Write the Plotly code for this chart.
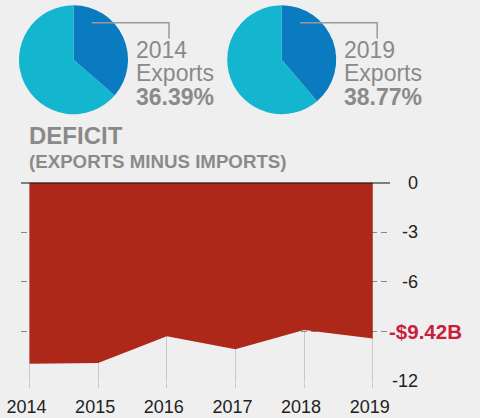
import plotly.graph_objects as go

# ---- data ----
years = [2014, 2015, 2016, 2017, 2018, 2019]
deficit = [-10.95, -10.90, -9.29, -10.07, -8.91, -9.42]
pie_years = ["2014", "2019"]
export_share = [36.39, 38.77]
y_tick_vals = [0, -3, -6, -12]
y_tick_text = ["0", "-3", "-6", "-12"]
last_label = "-$9.42B"
last_label_y = -9
title = "DEFICIT"
subtitle = "(EXPORTS MINUS IMPORTS)"

W, H = 480, 418
BG = "#EFEFEF"
GRAY = "#8A8A8A"
FONT = "Liberation Sans, Arial, sans-serif"
RED_FILL = "#AE2819"
RED_TEXT = "#C8203C"
BLUE = "#0A7BC1"
CYAN = "#14B5CE"


def px(x):
    return x / W


def py(y):
    return 1 - y / H


fig = go.Figure()

# pies
pie_centers = [73.5, 281.7]
pie_cy, pie_r = 59.7, 54.5
for cx, yr, share in zip(pie_centers, pie_years, export_share):
    fig.add_trace(go.Pie(
        values=[share, 100 - share],
        labels=["Exports", "Imports"],
        sort=False, direction="clockwise", rotation=0,
        marker=dict(colors=[BLUE, CYAN], line=dict(width=0)),
        textinfo="none", hoverinfo="label+percent", showlegend=False,
        domain=dict(x=[px(cx - pie_r), px(cx + pie_r)],
                    y=[py(pie_cy + pie_r), py(pie_cy - pie_r)]),
    ))

# area
fig.add_trace(go.Scatter(
    x=years, y=deficit, mode="lines", fill="tozeroy",
    fillcolor=RED_FILL, line=dict(width=0, color=RED_FILL),
    showlegend=False, hoverinfo="x+y",
))

x_left, x_right = 21, 388
t2014, step = 29.5, 68.64
xr0 = 2014 - (t2014 - x_left) / step
xr1 = 2019 + (x_right - (t2014 + 5 * step)) / step

y_top, y_bot = 182.5, 382

shapes = []
# zero line
shapes.append(dict(type="line", xref="paper", yref="y", x0=px(21), x1=px(390),
                   y0=0, y1=0, line=dict(color="#111111", width=2), layer="above"))
# leader lines
for cx in pie_centers:
    x0 = cx + 18.2
    x1 = cx + 95.5
    shapes.append(dict(type="path", xref="paper", yref="paper",
                       path=f"M {px(x0)},{py(22.7)} L {px(x1)},{py(22.7)} L {px(x1)},{py(38.5)}",
                       line=dict(color="#9A9A9A", width=1.5)))

annotations = []
for cx, yr, share in zip(pie_centers, pie_years, export_share):
    tx = cx + 60.5
    for txt, ymid, bold in [(yr, 50, False), ("Exports", 73, False), (f"{share:.2f}%", 97, True)]:
        annotations.append(dict(
            x=px(tx), y=py(ymid), xref="paper", yref="paper",
            xanchor="left", yanchor="middle", showarrow=False,
            text=f"<b>{txt}</b>" if bold else txt,
            font=dict(size=23, color=GRAY, family=FONT)))

annotations.append(dict(x=px(26.5), y=py(135.5), xref="paper", yref="paper",
                        xanchor="left", yanchor="middle", showarrow=False,
                        text=f"<b>{title}</b>", font=dict(size=24, color=GRAY, family=FONT)))
annotations.append(dict(x=px(26.5), y=py(161.5), xref="paper", yref="paper",
                        xanchor="left", yanchor="middle", showarrow=False,
                        text=f"<b>{subtitle}</b>", font=dict(size=18.7, color=GRAY, family=FONT)))

for v, t in zip(y_tick_vals, y_tick_text):
    annotations.append(dict(x=px(420), y=v, xref="paper", yref="y",
                            xanchor="right", yanchor="middle", showarrow=False,
                            text=t, font=dict(size=18, color="#222222", family=FONT)))
annotations.append(dict(x=px(387), y=last_label_y, xref="paper", yref="y",
                        xanchor="left", yanchor="middle", showarrow=False,
                        text=f"<b>{last_label}</b>", font=dict(size=20.5, color=RED_TEXT, family=FONT)))

fig.update_layout(
    template="none",
    width=W, height=H, margin=dict(l=0, r=0, t=0, b=0, pad=0, autoexpand=False),
    paper_bgcolor=BG, plot_bgcolor=BG,
    font=dict(family=FONT),
    shapes=shapes, annotations=annotations,
    xaxis=dict(domain=[px(x_left), px(x_right)], range=[xr0, xr1],
               tickvals=years, ticktext=[str(y) for y in years],
               showgrid=True, gridcolor="#C8C8C8", gridwidth=1,
               ticks="outside", ticklen=5, tickcolor="#C8C8C8",
               tickfont=dict(size=18, color="#222222", family=FONT),
               ticklabelshift=-3, ticklabelstandoff=3, automargin=False,
               zeroline=False, showline=False, fixedrange=True),
    yaxis=dict(domain=[py(y_bot), py(y_top)], range=[-12.05, 0],
               tickvals=[0, -3, -6, -9, -12], showticklabels=False,
               showgrid=True, gridcolor="#888888", gridwidth=1, griddash="6px,4px",
               zeroline=False, showline=False, fixedrange=True, automargin=False),
)

fig.write_html("out.html", config={"displayModeBar": False},
               post_script="document.body.style.margin='0';document.body.style.overflow='hidden';")
